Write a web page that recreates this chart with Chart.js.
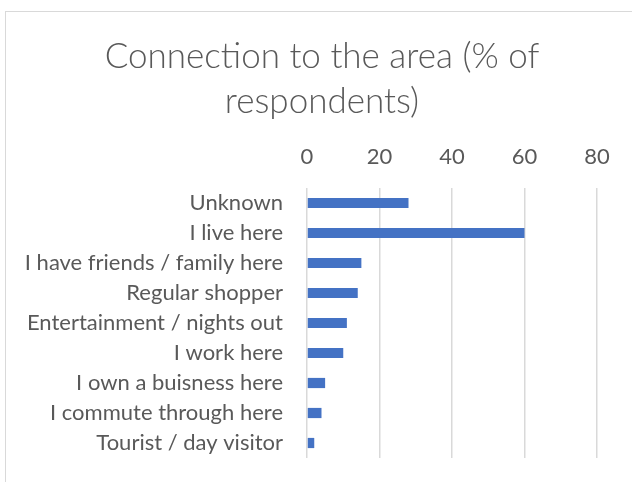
<!DOCTYPE html>
<html>
<head>
<meta charset="utf-8">
<script src="https://cdn.jsdelivr.net/npm/chart.js@4"></script>
<style>
  html, body { margin: 0; padding: 0; background: #fff; overflow: hidden; }
  #wrap { position: relative; width: 632px; height: 482px; }
  #frame { position: absolute; left: 5px; top: 11px; width: 700px; height: 600px; border: 1px solid #d9d9d9; }
  #chart { position: absolute; left: 0; top: 0; }
</style>
</head>
<body>
<div id="wrap">
  <div id="frame"></div>
  <canvas id="chart" width="632" height="482"></canvas>
</div>
<script>
// Survey answers, top to bottom
const categories = [
  "Unknown",
  "I live here",
  "I have friends / family here",
  "Regular shopper",
  "Entertainment / nights out",
  "I work here",
  "I own a buisness here",
  "I commute through here",
  "Tourist / day visitor",
]
const percentages = [28, 60, 15, 14, 11, 10, 5, 4, 2]
const xTicks = [0, 20, 40, 60, 80]

const textColor = "#595959"
const gridColor = "#d9d9d9"

document.addEventListener("DOMContentLoaded", () => {
  const ctx = document.getElementById("chart").getContext("2d")

  new Chart(ctx, {
    type: "bar",
    data: {
      labels: categories,
      datasets: [
        {
          label: "% of respondents",
          data: percentages,
          backgroundColor: "#4472c4",
          barPercentage: 0.34,
          categoryPercentage: 1,
        },
      ],
    },
    options: {
      responsive: false,
      animation: false,
      indexAxis: "y",
      layout: {
        padding: { top: 0, right: 0, bottom: 24, left: 12 },
      },
      plugins: {
        legend: { display: false },
        tooltip: { enabled: false },
        title: {
          display: true,
          text: ["Connection to the area (% of", "respondents)"],
          color: textColor,
          font: { family: "Lato", size: 35, weight: 300, lineHeight: "45px" },
          padding: { top: 34, bottom: 6 },
        },
      },
      scales: {
        x: {
          position: "top",
          min: xTicks[0],
          max: xTicks[xTicks.length - 1],
          afterBuildTicks: (scale) => {
            scale.ticks = xTicks.map((v) => ({ value: v }))
          },
          afterFit: (scale) => {
            scale.height = 58
          },
          ticks: {
            color: textColor,
            font: { family: "Lato", size: 22 },
            padding: 18,
          },
          grid: { color: gridColor, lineWidth: 1.5, drawTicks: false },
          border: { display: false },
        },
        y: {
          afterFit: (scale) => {
            scale.width = 295
          },
          ticks: {
            color: textColor,
            font: { family: "Lato", size: 22 },
            padding: 0,
            autoSkip: false,
          },
          // hidden tick marks still reserve the gap between labels and bars
          grid: { display: false, drawTicks: true, tickLength: 24 },
          border: { display: false },
        },
        // empty strip on the right so the plot ends short of the frame
        yRight: {
          type: "category",
          position: "right",
          afterFit: (scale) => {
            scale.width = 35
          },
          ticks: { display: false },
          grid: { display: false, drawTicks: false },
          border: { display: false },
        },
      },
    },
  })
})
</script>
</body>
</html>
